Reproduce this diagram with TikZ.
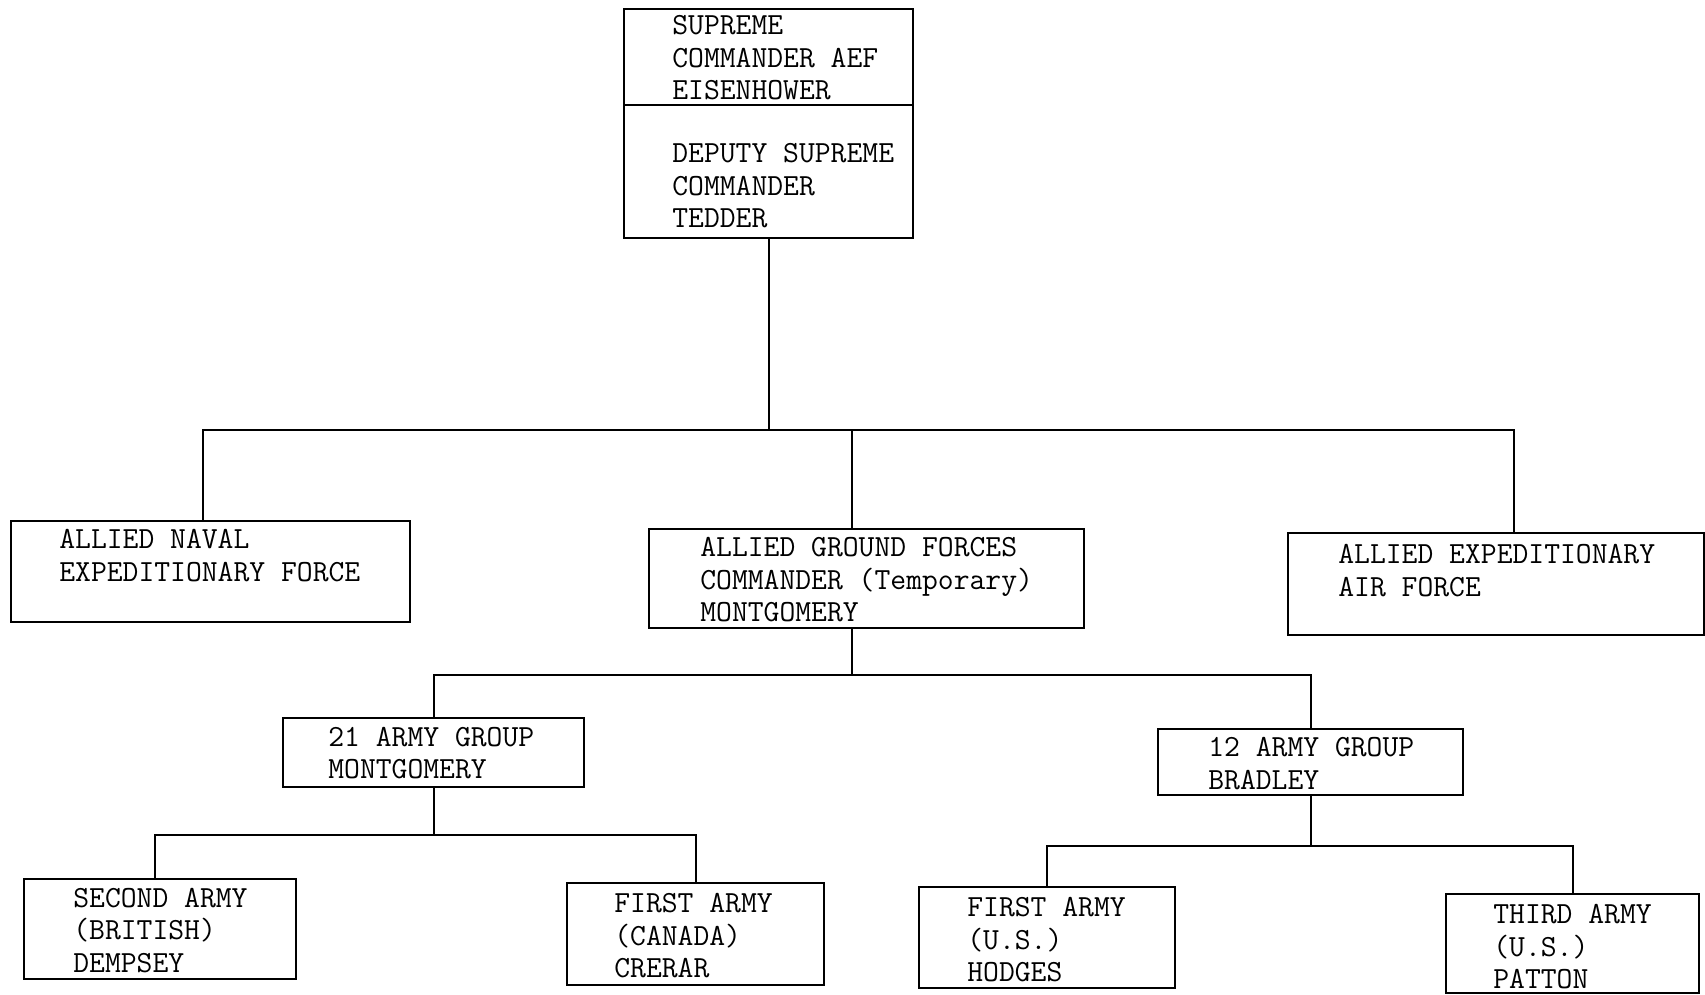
\documentclass[tikz,border=0pt]{standalone}
\usepackage{fontspec}
\usepackage{tikz}

\tikzset{
  box/.style={draw, line width=1.3pt, anchor=north west, inner sep=0pt},
  lbl/.style={anchor=north west, inner sep=0pt, align=left, font=\fontsize{17.5}{18.5}\selectfont\ttfamily\addfontfeature{FakeBold=1.2}},
  link/.style={line width=1.3pt}
}

\begin{document}
\begin{tikzpicture}
  \useasboundingbox (0,0) rectangle (34.1,-19.88);
  % comando supremo
  \node[box, minimum width=5.78cm, minimum height=4.58cm] (sup) at (12.46,-0.16) {};
  \draw[link] (sup.west |- 0,-2.1) -- (sup.east |- 0,-2.1);
  \node[lbl] (supA) at (13.44,-0.30) {SUPREME\\COMMANDER AEF\\EISENHOWER};
  \node[lbl] (supB) at (13.44,-2.86) {DEPUTY SUPREME\\COMMANDER\\TEDDER};
  % secondo livello
  \node[box, minimum width=7.98cm, minimum height=2.02cm] (naval) at (0.20,-10.40) {};
  \node[lbl] (navalT) at (1.18,-10.58) {ALLIED NAVAL\\EXPEDITIONARY FORCE};
  \node[box, minimum width=8.70cm, minimum height=1.98cm] (ground) at (12.96,-10.56) {};
  \node[lbl] (groundT) at (14.00,-10.74) {ALLIED GROUND FORCES\\COMMANDER (Temporary)\\MONTGOMERY};
  \node[box, minimum width=8.32cm, minimum height=2.04cm] (air) at (25.74,-10.64) {};
  \node[lbl] (airT) at (26.76,-10.88) {ALLIED EXPEDITIONARY\\AIR FORCE};
  % gruppi d'armate
  \node[box, minimum width=6.02cm, minimum height=1.38cm] (grpA) at (5.64,-14.34) {};
  \node[lbl] (grpAT) at (6.56,-14.53) {21 ARMY GROUP\\MONTGOMERY};
  \node[box, minimum width=6.10cm, minimum height=1.32cm] (grpB) at (23.14,-14.56) {};
  \node[lbl] (grpBT) at (24.16,-14.74) {12 ARMY GROUP\\BRADLEY};
  % armate
  \node[box, minimum width=5.44cm, minimum height=2.00cm] (second) at (0.46,-17.56) {};
  \node[lbl] (secondT) at (1.46,-17.75) {SECOND ARMY\\(BRITISH)\\DEMPSEY};
  \node[box, minimum width=5.14cm, minimum height=2.04cm] (canada) at (11.32,-17.64) {};
  \node[lbl] (canadaT) at (12.28,-17.86) {FIRST ARMY\\(CANADA)\\CRERAR};
  \node[box, minimum width=5.12cm, minimum height=2.02cm] (usfirst) at (18.36,-17.72) {};
  \node[lbl] (usfirstT) at (19.34,-17.94) {FIRST ARMY\\(U.S.)\\HODGES};
  \node[box, minimum width=5.06cm, minimum height=1.98cm] (third) at (28.90,-17.86) {};
  \node[lbl] (thirdT) at (29.86,-18.08) {THIRD ARMY\\(U.S.)\\PATTON};
  % linee
  \coordinate (busA) at (0,-8.60);
  \coordinate (busB) at (0,-13.50);
  \coordinate (busC) at (0,-16.70);
  \coordinate (busD) at (0,-16.92);
  \coordinate (navalN) at ([xshift=-0.15cm]naval.north);
  \coordinate (groundN) at ([xshift=-0.29cm]ground.north);
  \coordinate (groundS) at ([xshift=-0.29cm]ground.south);
  \coordinate (airN) at ([xshift=0.36cm]air.north);
  \coordinate (secondN) at ([xshift=-0.10cm]second.north);
  \draw[link] (sup.south) -- (sup.south |- busA);
  \draw[link] (navalN) |- (airN |- busA) -- (airN);
  \draw[link] (groundN) -- (groundN |- busA);
  \draw[link] (groundS) -- (groundS |- busB);
  \draw[link] (grpA.north) |- (grpB.north |- busB) -- (grpB.north);
  \draw[link] (grpA.south) -- (grpA.south |- busC);
  \draw[link] (secondN) |- (canada.north |- busC) -- (canada.north);
  \draw[link] (grpB.south) -- (grpB.south |- busD);
  \draw[link] (usfirst.north) |- (third.north |- busD) -- (third.north);
\end{tikzpicture}
\end{document}
